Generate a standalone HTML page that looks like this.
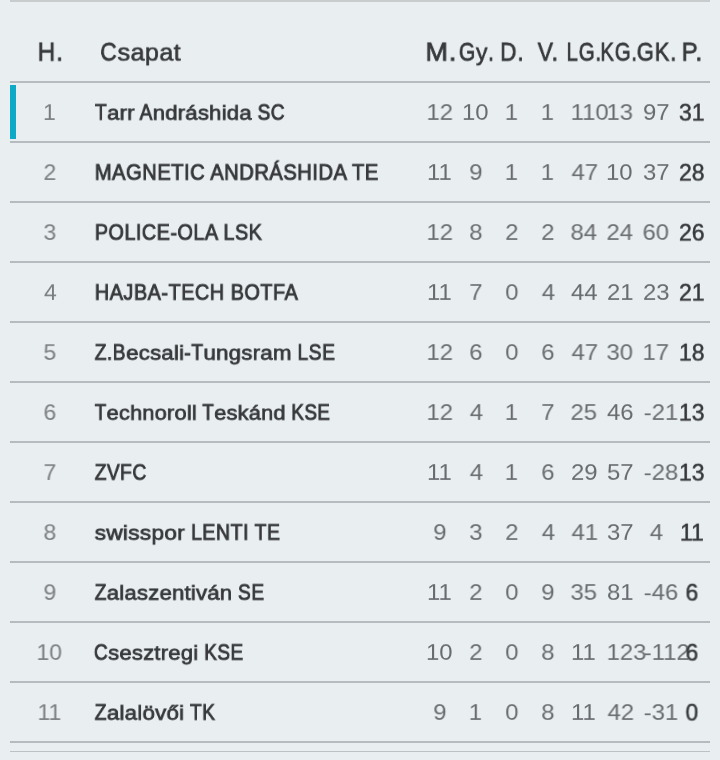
<!DOCTYPE html><html><head><meta charset="utf-8"><title>Tabella</title><style>*{margin:0;padding:0;box-sizing:border-box}
html,body{width:720px;height:760px;overflow:hidden;background:#e9eef1;font-family:"Liberation Sans",sans-serif}
.ln{position:absolute;left:10px;width:700px;height:2px;background:#b5bbbe}
.t{position:absolute;left:0;top:0;white-space:nowrap;line-height:1;transform-origin:0 0;will-change:transform}
.lc{display:inline-block;line-height:0;font-size:1.16em;transform:scaleY(0.8103);transform-origin:0 9.50px;letter-spacing:0.3px}.lch{display:inline-block;line-height:0;font-size:1.1em;transform:scaleY(0.8364);transform-origin:0 10.50px;letter-spacing:0.5px}
</style></head><body>
<div class="ln" style="top:0;background:#c8cccd"></div>
<div class="ln" style="top:81px"></div>
<div class="ln" style="top:141px"></div>
<div class="ln" style="top:201px"></div>
<div class="ln" style="top:261px"></div>
<div class="ln" style="top:321px"></div>
<div class="ln" style="top:381px"></div>
<div class="ln" style="top:441px"></div>
<div class="ln" style="top:501px"></div>
<div class="ln" style="top:561px"></div>
<div class="ln" style="top:621px"></div>
<div class="ln" style="top:681px"></div>
<div class="ln" style="top:741px"></div>
<div class="ln" style="top:751px;height:1px;background:#bcc1c4"></div>
<div style="position:absolute;left:10px;top:85px;width:6px;height:54px;background:#0ea9c6"></div>
<div class="t" style="font-size:28px;color:#37393b;transform:matrix(0.8760,0,0,0.9333,37.55,39.10);-webkit-text-stroke:0.8px #37393b;letter-spacing:1px;">H.</div>
<div class="t" style="font-size:28px;color:#37393b;transform:matrix(0.8163,0,0,0.9333,100.18,39.10);-webkit-text-stroke:0.8px #37393b;letter-spacing:1px;">C<span class="lch">sapat</span></div>
<div class="t" style="font-size:28px;color:#37393b;transform:matrix(0.9679,0,0,0.9333,425.36,39.10);-webkit-text-stroke:0.8px #37393b;letter-spacing:1px;">M.</div>
<div class="t" style="font-size:28px;color:#37393b;transform:matrix(0.7512,0,0,0.9333,458.85,39.10);-webkit-text-stroke:0.8px #37393b;letter-spacing:1px;">G<span class="lch">y</span>.</div>
<div class="t" style="font-size:28px;color:#37393b;transform:matrix(0.8120,0,0,0.9333,500.08,39.10);-webkit-text-stroke:0.8px #37393b;letter-spacing:1px;">D.</div>
<div class="t" style="font-size:28px;color:#37393b;transform:matrix(0.8174,0,0,0.9333,537.70,39.10);-webkit-text-stroke:0.8px #37393b;letter-spacing:1px;">V.</div>
<div class="t" style="font-size:28px;color:#37393b;transform:matrix(0.7372,0,0,0.9333,566.43,39.10);-webkit-text-stroke:0.8px #37393b;letter-spacing:1px;">LG.</div>
<div class="t" style="font-size:28px;color:#37393b;transform:matrix(0.7326,0,0,0.9333,600.23,39.10);-webkit-text-stroke:0.8px #37393b;letter-spacing:1px;">KG.</div>
<div class="t" style="font-size:28px;color:#37393b;transform:matrix(0.7894,0,0,0.9333,636.71,39.10);-webkit-text-stroke:0.8px #37393b;letter-spacing:1px;">GK.</div>
<div class="t" style="font-size:28px;color:#37393b;transform:matrix(0.8650,0,0,0.9333,681.57,39.10);-webkit-text-stroke:0.8px #37393b;letter-spacing:1px;">P.</div>
<div class="t" style="font-size:24px;color:#37393b;transform:matrix(0.7933,0,0,0.9053,95.00,101.59);-webkit-text-stroke:1px #37393b;letter-spacing:0.6px;">T<span class="lc">arr</span> A<span class="lc">ndráshida</span> SC</div>
<div class="t" style="font-size:23px;color:#7a7d80;transform:matrix(1.0000,0,0,0.9176,43.00,102.46);">1</div>
<div class="t" style="font-size:23px;color:#696c6f;transform:matrix(1.0400,0,0,0.9176,426.48,102.36);">12</div>
<div class="t" style="font-size:23px;color:#696c6f;transform:matrix(1.0400,0,0,0.9176,461.96,102.36);">10</div>
<div class="t" style="font-size:23px;color:#696c6f;transform:matrix(1.0400,0,0,0.9176,504.72,102.36);">1</div>
<div class="t" style="font-size:23px;color:#696c6f;transform:matrix(1.0400,0,0,0.9176,540.72,102.36);">1</div>
<div class="t" style="font-size:23px;color:#696c6f;transform:matrix(1.0400,0,0,0.9176,570.62,102.36);">110</div>
<div class="t" style="font-size:23px;color:#696c6f;transform:matrix(1.0400,0,0,0.9176,606.48,102.36);">13</div>
<div class="t" style="font-size:23px;color:#696c6f;transform:matrix(1.0400,0,0,0.9176,643.00,102.36);">97</div>
<div class="t" style="font-size:23px;color:#37393b;transform:matrix(1.0000,0,0,0.9824,679.00,101.84);-webkit-text-stroke:0.5px #37393b;">31</div>
<div class="t" style="font-size:24px;color:#37393b;transform:matrix(0.8399,0,0,0.9053,94.76,161.59);-webkit-text-stroke:1px #37393b;letter-spacing:0.6px;">MAGNETIC ANDRÁSHIDA TE</div>
<div class="t" style="font-size:23px;color:#7a7d80;transform:matrix(1.0000,0,0,0.9176,43.50,162.46);">2</div>
<div class="t" style="font-size:23px;color:#696c6f;transform:matrix(1.0400,0,0,0.9176,427.00,162.36);">11</div>
<div class="t" style="font-size:23px;color:#696c6f;transform:matrix(1.0400,0,0,0.9176,469.24,162.36);">9</div>
<div class="t" style="font-size:23px;color:#696c6f;transform:matrix(1.0400,0,0,0.9176,504.72,162.36);">1</div>
<div class="t" style="font-size:23px;color:#696c6f;transform:matrix(1.0400,0,0,0.9176,540.72,162.36);">1</div>
<div class="t" style="font-size:23px;color:#696c6f;transform:matrix(1.0400,0,0,0.9176,571.52,162.36);">47</div>
<div class="t" style="font-size:23px;color:#696c6f;transform:matrix(1.0400,0,0,0.9176,605.96,162.36);">10</div>
<div class="t" style="font-size:23px;color:#696c6f;transform:matrix(1.0400,0,0,0.9176,643.00,162.36);">37</div>
<div class="t" style="font-size:23px;color:#37393b;transform:matrix(1.0000,0,0,0.9824,679.00,161.84);-webkit-text-stroke:0.5px #37393b;">28</div>
<div class="t" style="font-size:24px;color:#37393b;transform:matrix(0.8248,0,0,0.9053,94.78,221.59);-webkit-text-stroke:1px #37393b;letter-spacing:0.6px;">POLICE-OLA LSK</div>
<div class="t" style="font-size:23px;color:#7a7d80;transform:matrix(1.0000,0,0,0.9176,43.50,222.46);">3</div>
<div class="t" style="font-size:23px;color:#696c6f;transform:matrix(1.0400,0,0,0.9176,426.48,222.36);">12</div>
<div class="t" style="font-size:23px;color:#696c6f;transform:matrix(1.0400,0,0,0.9176,469.24,222.36);">8</div>
<div class="t" style="font-size:23px;color:#696c6f;transform:matrix(1.0400,0,0,0.9176,505.24,222.36);">2</div>
<div class="t" style="font-size:23px;color:#696c6f;transform:matrix(1.0400,0,0,0.9176,541.24,222.36);">2</div>
<div class="t" style="font-size:23px;color:#696c6f;transform:matrix(1.0400,0,0,0.9176,570.48,222.36);">84</div>
<div class="t" style="font-size:23px;color:#696c6f;transform:matrix(1.0400,0,0,0.9176,606.48,222.36);">24</div>
<div class="t" style="font-size:23px;color:#696c6f;transform:matrix(1.0400,0,0,0.9176,642.48,222.36);">60</div>
<div class="t" style="font-size:23px;color:#37393b;transform:matrix(1.0000,0,0,0.9824,679.00,221.84);-webkit-text-stroke:0.5px #37393b;">26</div>
<div class="t" style="font-size:24px;color:#37393b;transform:matrix(0.8287,0,0,0.9053,94.77,281.59);-webkit-text-stroke:1px #37393b;letter-spacing:0.6px;">HAJBA-TECH BOTFA</div>
<div class="t" style="font-size:23px;color:#7a7d80;transform:matrix(1.0000,0,0,0.9176,44.00,282.46);">4</div>
<div class="t" style="font-size:23px;color:#696c6f;transform:matrix(1.0400,0,0,0.9176,427.00,282.36);">11</div>
<div class="t" style="font-size:23px;color:#696c6f;transform:matrix(1.0400,0,0,0.9176,469.24,282.36);">7</div>
<div class="t" style="font-size:23px;color:#696c6f;transform:matrix(1.0400,0,0,0.9176,505.24,282.36);">0</div>
<div class="t" style="font-size:23px;color:#696c6f;transform:matrix(1.0400,0,0,0.9176,541.76,282.36);">4</div>
<div class="t" style="font-size:23px;color:#696c6f;transform:matrix(1.0400,0,0,0.9176,571.00,282.36);">44</div>
<div class="t" style="font-size:23px;color:#696c6f;transform:matrix(1.0400,0,0,0.9176,607.00,282.36);">21</div>
<div class="t" style="font-size:23px;color:#696c6f;transform:matrix(1.0400,0,0,0.9176,643.00,282.36);">23</div>
<div class="t" style="font-size:23px;color:#37393b;transform:matrix(1.0000,0,0,0.9824,679.00,281.84);-webkit-text-stroke:0.5px #37393b;">21</div>
<div class="t" style="font-size:24px;color:#37393b;transform:matrix(0.8000,0,0,0.9053,94.70,341.59);-webkit-text-stroke:1px #37393b;letter-spacing:0.6px;">Z.B<span class="lc">ecsali</span>-T<span class="lc">ungsram</span> LSE</div>
<div class="t" style="font-size:23px;color:#7a7d80;transform:matrix(1.0000,0,0,0.9176,43.50,342.46);">5</div>
<div class="t" style="font-size:23px;color:#696c6f;transform:matrix(1.0400,0,0,0.9176,426.48,342.36);">12</div>
<div class="t" style="font-size:23px;color:#696c6f;transform:matrix(1.0400,0,0,0.9176,469.24,342.36);">6</div>
<div class="t" style="font-size:23px;color:#696c6f;transform:matrix(1.0400,0,0,0.9176,505.24,342.36);">0</div>
<div class="t" style="font-size:23px;color:#696c6f;transform:matrix(1.0400,0,0,0.9176,541.24,342.36);">6</div>
<div class="t" style="font-size:23px;color:#696c6f;transform:matrix(1.0400,0,0,0.9176,571.52,342.36);">47</div>
<div class="t" style="font-size:23px;color:#696c6f;transform:matrix(1.0400,0,0,0.9176,606.48,342.36);">30</div>
<div class="t" style="font-size:23px;color:#696c6f;transform:matrix(1.0400,0,0,0.9176,642.48,342.36);">17</div>
<div class="t" style="font-size:23px;color:#37393b;transform:matrix(1.0000,0,0,0.9824,679.00,341.84);-webkit-text-stroke:0.5px #37393b;">18</div>
<div class="t" style="font-size:24px;color:#37393b;transform:matrix(0.7811,0,0,0.9053,94.70,401.59);-webkit-text-stroke:1px #37393b;letter-spacing:0.6px;">T<span class="lc">echnoroll</span> T<span class="lc">eskánd</span> KSE</div>
<div class="t" style="font-size:23px;color:#7a7d80;transform:matrix(1.0000,0,0,0.9176,43.50,402.46);">6</div>
<div class="t" style="font-size:23px;color:#696c6f;transform:matrix(1.0400,0,0,0.9176,426.48,402.36);">12</div>
<div class="t" style="font-size:23px;color:#696c6f;transform:matrix(1.0400,0,0,0.9176,469.76,402.36);">4</div>
<div class="t" style="font-size:23px;color:#696c6f;transform:matrix(1.0400,0,0,0.9176,504.72,402.36);">1</div>
<div class="t" style="font-size:23px;color:#696c6f;transform:matrix(1.0400,0,0,0.9176,541.24,402.36);">7</div>
<div class="t" style="font-size:23px;color:#696c6f;transform:matrix(1.0400,0,0,0.9176,570.48,402.36);">25</div>
<div class="t" style="font-size:23px;color:#696c6f;transform:matrix(1.0400,0,0,0.9176,607.00,402.36);">46</div>
<div class="t" style="font-size:23px;color:#696c6f;transform:matrix(1.0400,0,0,0.9176,643.66,402.36);">-21</div>
<div class="t" style="font-size:23px;color:#37393b;transform:matrix(1.0000,0,0,0.9824,679.00,401.84);-webkit-text-stroke:0.5px #37393b;">13</div>
<div class="t" style="font-size:24px;color:#37393b;transform:matrix(0.7984,0,0,0.9053,94.70,461.59);-webkit-text-stroke:1px #37393b;letter-spacing:0.6px;">ZVFC</div>
<div class="t" style="font-size:23px;color:#7a7d80;transform:matrix(1.0000,0,0,0.9176,43.50,462.46);">7</div>
<div class="t" style="font-size:23px;color:#696c6f;transform:matrix(1.0400,0,0,0.9176,427.00,462.36);">11</div>
<div class="t" style="font-size:23px;color:#696c6f;transform:matrix(1.0400,0,0,0.9176,469.76,462.36);">4</div>
<div class="t" style="font-size:23px;color:#696c6f;transform:matrix(1.0400,0,0,0.9176,504.72,462.36);">1</div>
<div class="t" style="font-size:23px;color:#696c6f;transform:matrix(1.0400,0,0,0.9176,541.24,462.36);">6</div>
<div class="t" style="font-size:23px;color:#696c6f;transform:matrix(1.0400,0,0,0.9176,571.00,462.36);">29</div>
<div class="t" style="font-size:23px;color:#696c6f;transform:matrix(1.0400,0,0,0.9176,607.00,462.36);">57</div>
<div class="t" style="font-size:23px;color:#696c6f;transform:matrix(1.0400,0,0,0.9176,643.66,462.36);">-28</div>
<div class="t" style="font-size:23px;color:#37393b;transform:matrix(1.0000,0,0,0.9824,679.00,461.84);-webkit-text-stroke:0.5px #37393b;">13</div>
<div class="t" style="font-size:24px;color:#37393b;transform:matrix(0.8163,0,0,0.9053,94.70,521.59);-webkit-text-stroke:1px #37393b;letter-spacing:0.6px;"><span class="lc">swisspor</span> LENTI TE</div>
<div class="t" style="font-size:23px;color:#7a7d80;transform:matrix(1.0000,0,0,0.9176,43.50,522.46);">8</div>
<div class="t" style="font-size:23px;color:#696c6f;transform:matrix(1.0400,0,0,0.9176,433.24,522.36);">9</div>
<div class="t" style="font-size:23px;color:#696c6f;transform:matrix(1.0400,0,0,0.9176,469.24,522.36);">3</div>
<div class="t" style="font-size:23px;color:#696c6f;transform:matrix(1.0400,0,0,0.9176,505.24,522.36);">2</div>
<div class="t" style="font-size:23px;color:#696c6f;transform:matrix(1.0400,0,0,0.9176,541.76,522.36);">4</div>
<div class="t" style="font-size:23px;color:#696c6f;transform:matrix(1.0400,0,0,0.9176,571.52,522.36);">41</div>
<div class="t" style="font-size:23px;color:#696c6f;transform:matrix(1.0400,0,0,0.9176,607.00,522.36);">37</div>
<div class="t" style="font-size:23px;color:#696c6f;transform:matrix(1.0400,0,0,0.9176,649.76,522.36);">4</div>
<div class="t" style="font-size:23px;color:#37393b;transform:matrix(1.0000,0,0,0.9824,680.00,521.84);-webkit-text-stroke:0.5px #37393b;">11</div>
<div class="t" style="font-size:24px;color:#37393b;transform:matrix(0.7930,0,0,0.9053,94.70,581.59);-webkit-text-stroke:1px #37393b;letter-spacing:0.6px;">Z<span class="lc">alaszentiván</span> SE</div>
<div class="t" style="font-size:23px;color:#7a7d80;transform:matrix(1.0000,0,0,0.9176,43.50,582.46);">9</div>
<div class="t" style="font-size:23px;color:#696c6f;transform:matrix(1.0400,0,0,0.9176,427.00,582.36);">11</div>
<div class="t" style="font-size:23px;color:#696c6f;transform:matrix(1.0400,0,0,0.9176,469.24,582.36);">2</div>
<div class="t" style="font-size:23px;color:#696c6f;transform:matrix(1.0400,0,0,0.9176,505.24,582.36);">0</div>
<div class="t" style="font-size:23px;color:#696c6f;transform:matrix(1.0400,0,0,0.9176,541.24,582.36);">9</div>
<div class="t" style="font-size:23px;color:#696c6f;transform:matrix(1.0400,0,0,0.9176,570.48,582.36);">35</div>
<div class="t" style="font-size:23px;color:#696c6f;transform:matrix(1.0400,0,0,0.9176,607.00,582.36);">81</div>
<div class="t" style="font-size:23px;color:#696c6f;transform:matrix(1.0400,0,0,0.9176,643.66,582.36);">-46</div>
<div class="t" style="font-size:23px;color:#37393b;transform:matrix(1.0000,0,0,0.9824,685.50,581.84);-webkit-text-stroke:0.5px #37393b;">6</div>
<div class="t" style="font-size:24px;color:#37393b;transform:matrix(0.7914,0,0,0.9053,93.91,641.59);-webkit-text-stroke:1px #37393b;letter-spacing:0.6px;">C<span class="lc">sesztregi</span> KSE</div>
<div class="t" style="font-size:23px;color:#7a7d80;transform:matrix(1.0000,0,0,0.9176,36.50,642.46);">10</div>
<div class="t" style="font-size:23px;color:#696c6f;transform:matrix(1.0400,0,0,0.9176,425.96,642.36);">10</div>
<div class="t" style="font-size:23px;color:#696c6f;transform:matrix(1.0400,0,0,0.9176,469.24,642.36);">2</div>
<div class="t" style="font-size:23px;color:#696c6f;transform:matrix(1.0400,0,0,0.9176,505.24,642.36);">0</div>
<div class="t" style="font-size:23px;color:#696c6f;transform:matrix(1.0400,0,0,0.9176,541.24,642.36);">8</div>
<div class="t" style="font-size:23px;color:#696c6f;transform:matrix(1.0400,0,0,0.9176,571.00,642.36);">11</div>
<div class="t" style="font-size:23px;color:#696c6f;transform:matrix(1.0400,0,0,0.9176,606.62,642.36);">123</div>
<div class="t" style="font-size:23px;color:#696c6f;transform:matrix(1.0400,0,0,0.9176,643.66,642.36);">-112</div>
<div class="t" style="font-size:23px;color:#37393b;transform:matrix(1.0000,0,0,0.9824,685.50,641.84);-webkit-text-stroke:0.5px #37393b;">6</div>
<div class="t" style="font-size:24px;color:#37393b;transform:matrix(0.8000,0,0,0.9053,94.70,701.59);-webkit-text-stroke:1px #37393b;letter-spacing:0.6px;">Z<span class="lc">alalövői</span> TK</div>
<div class="t" style="font-size:23px;color:#7a7d80;transform:matrix(1.0000,0,0,0.9176,37.50,702.46);">11</div>
<div class="t" style="font-size:23px;color:#696c6f;transform:matrix(1.0400,0,0,0.9176,433.24,702.36);">9</div>
<div class="t" style="font-size:23px;color:#696c6f;transform:matrix(1.0400,0,0,0.9176,468.72,702.36);">1</div>
<div class="t" style="font-size:23px;color:#696c6f;transform:matrix(1.0400,0,0,0.9176,505.24,702.36);">0</div>
<div class="t" style="font-size:23px;color:#696c6f;transform:matrix(1.0400,0,0,0.9176,541.24,702.36);">8</div>
<div class="t" style="font-size:23px;color:#696c6f;transform:matrix(1.0400,0,0,0.9176,571.00,702.36);">11</div>
<div class="t" style="font-size:23px;color:#696c6f;transform:matrix(1.0400,0,0,0.9176,607.52,702.36);">42</div>
<div class="t" style="font-size:23px;color:#696c6f;transform:matrix(1.0400,0,0,0.9176,643.66,702.36);">-31</div>
<div class="t" style="font-size:23px;color:#37393b;transform:matrix(1.0000,0,0,0.9824,685.50,701.84);-webkit-text-stroke:0.5px #37393b;">0</div>
</body></html>
